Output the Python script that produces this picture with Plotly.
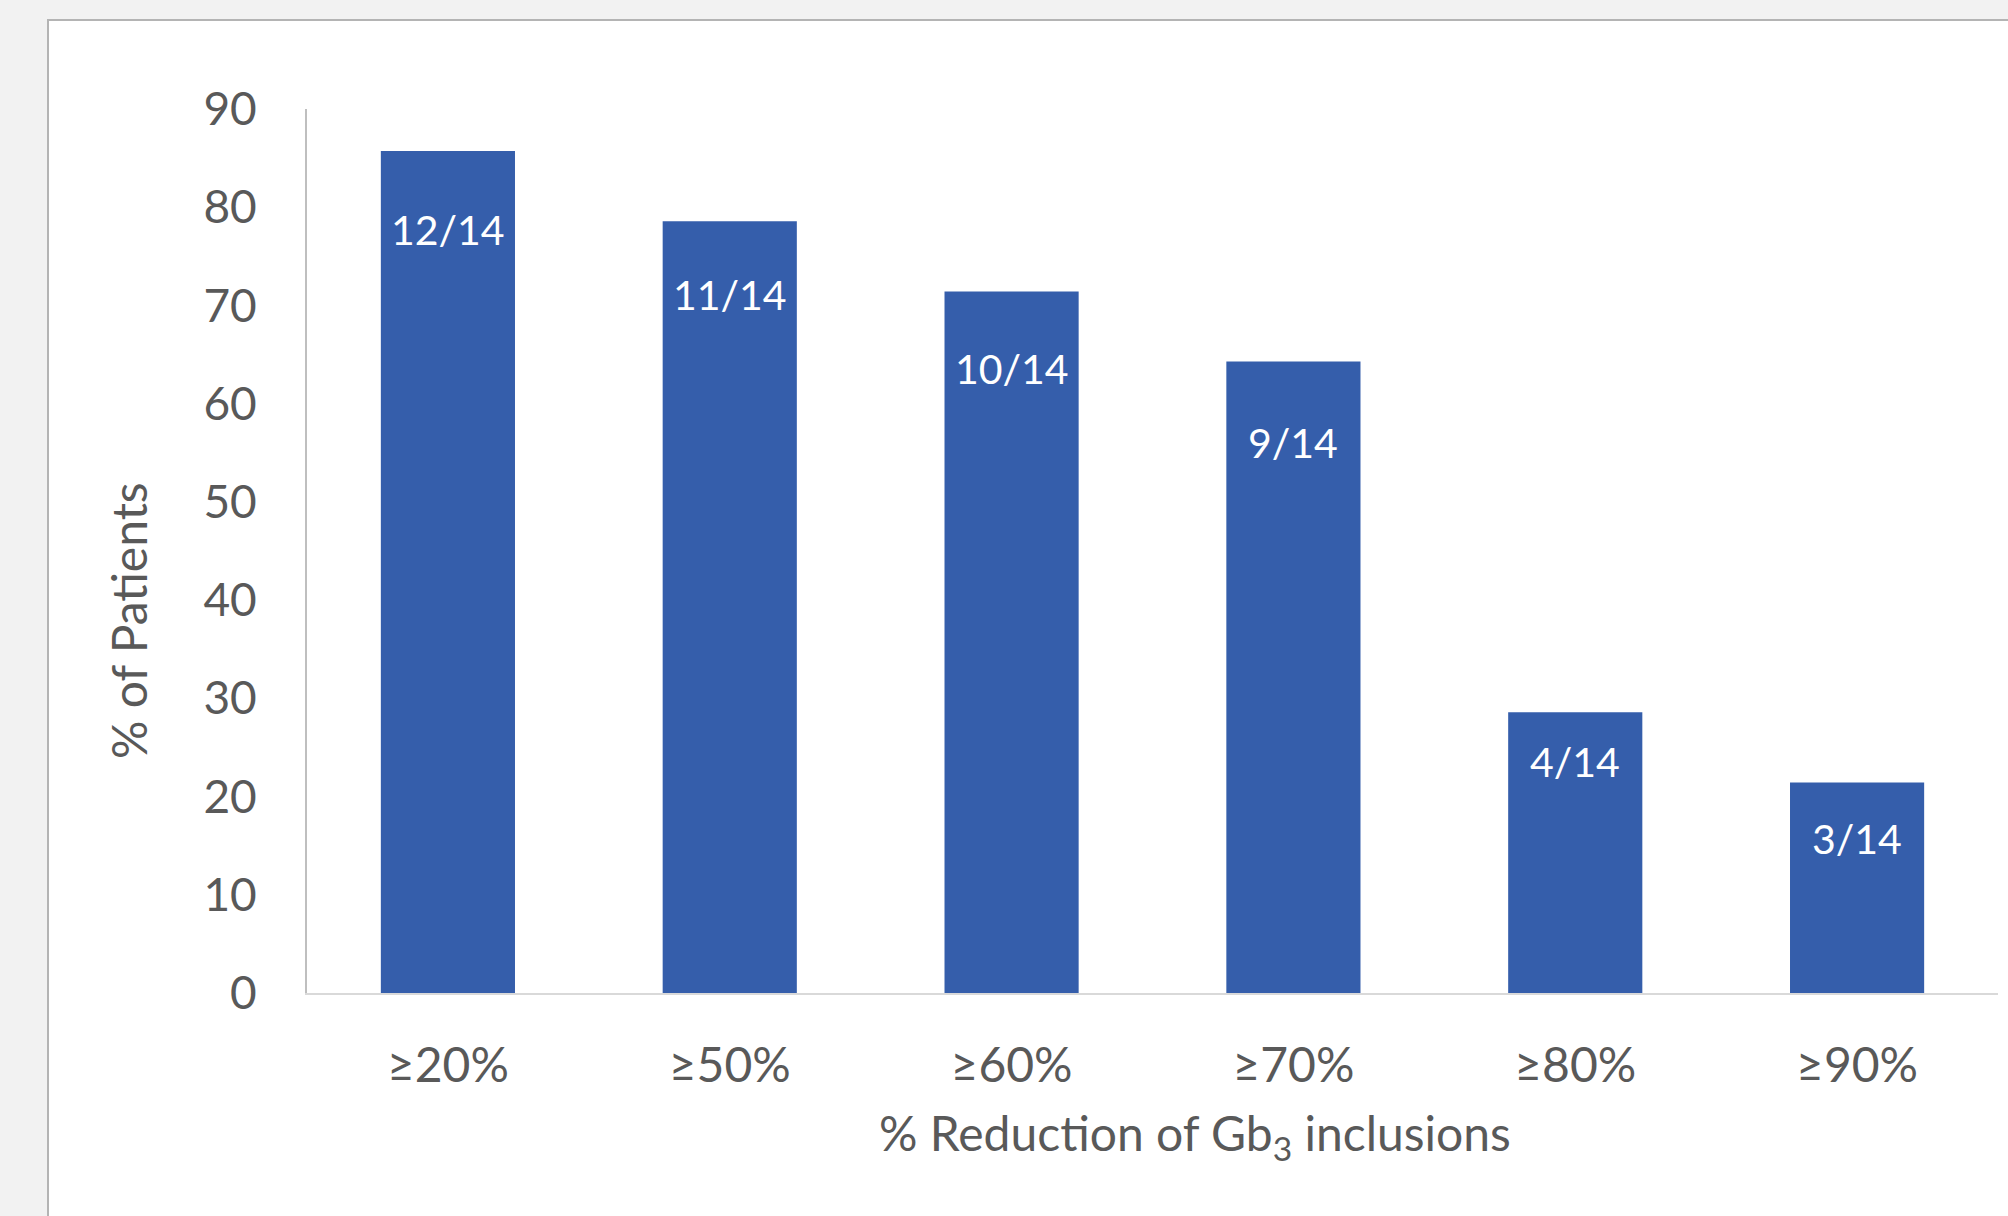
import plotly.graph_objects as go

# Reduction thresholds and share of patients reaching each one
categories = ["≥20%", "≥50%", "≥60%", "≥70%", "≥80%", "≥90%"]
responders = [12, 11, 10, 9, 4, 3]
total_patients = 14
pct_patients = [r / total_patients * 100 for r in responders]
bar_labels = [f"{r}/{total_patients}" for r in responders]
y_ticks = [0, 10, 20, 30, 40, 50, 60, 70, 80, 90]

# Styling
W, H = 2008, 1216
FONT = "Lato, 'Open Sans', sans-serif"
GRAY_TEXT = "#595959"
BAR_COLOR = "#355EAB"
label_yshift = [-78, -73, -77, -81, -49, -56]

plot_left, plot_right = 307, 1998
plot_top, plot_bottom = 109, 993

fig = go.Figure()
fig.add_trace(go.Bar(
    x=categories,
    y=pct_patients,
    marker=dict(color=BAR_COLOR, line=dict(width=0)),
    width=0.476,
    hoverinfo="skip",
))

# white chart panel on the light-gray page
fig.add_shape(
    type="rect", xref="paper", yref="paper",
    x0=48 / W, x1=1.01, y0=-0.01, y1=1 - 20 / H,
    fillcolor="white", line=dict(color="#B4B4B4", width=2), layer="below",
)

annotations = []
for cat, val, lab, dy in zip(categories, pct_patients, bar_labels, label_yshift):
    annotations.append(dict(
        x=cat, y=val, xref="x", yref="y", text=lab, showarrow=False,
        xanchor="center", yanchor="middle",
        yshift=dy, font=dict(family=FONT, size=41, color="white"),
    ))

annotations.append(dict(
    x=128 / W, y=1 - 621 / H, xref="paper", yref="paper",
    xanchor="center", yanchor="middle",
    text="% of Patients", textangle=-90, showarrow=False,
    font=dict(family=FONT, size=48, color=GRAY_TEXT),
))
annotations.append(dict(
    x=1195 / W, y=1 - 1136 / H, xref="paper", yref="paper",
    xanchor="center", yanchor="middle",
    text="% Reduction of Gb<sub>3</sub> inclusions", showarrow=False,
    font=dict(family=FONT, size=48, color=GRAY_TEXT),
))

fig.update_layout(
    width=W, height=H,
    margin=dict(l=0, r=0, t=0, b=0, autoexpand=False),
    paper_bgcolor="#F2F2F2",
    plot_bgcolor="white",
    showlegend=False,
    annotations=annotations,
    xaxis=dict(
        domain=[plot_left / W, plot_right / W],
        automargin=False,
        showgrid=False, zeroline=False,
        showline=True, linecolor="#D9D9D9", linewidth=2,
        ticks="", ticklabelstandoff=29,
        tickfont=dict(family=FONT, size=48, color=GRAY_TEXT),
    ),
    yaxis=dict(
        domain=[1 - plot_bottom / H, 1 - plot_top / H],
        automargin=False,
        range=[0, 90], tickvals=y_ticks,
        showgrid=False, zeroline=False,
        showline=True, linecolor="#BFBFBF", linewidth=2,
        ticks="", ticklabelstandoff=39,
        tickfont=dict(family=FONT, size=46, color=GRAY_TEXT),
    ),
    bargap=0.524,
)

fig.write_html("out.html")
